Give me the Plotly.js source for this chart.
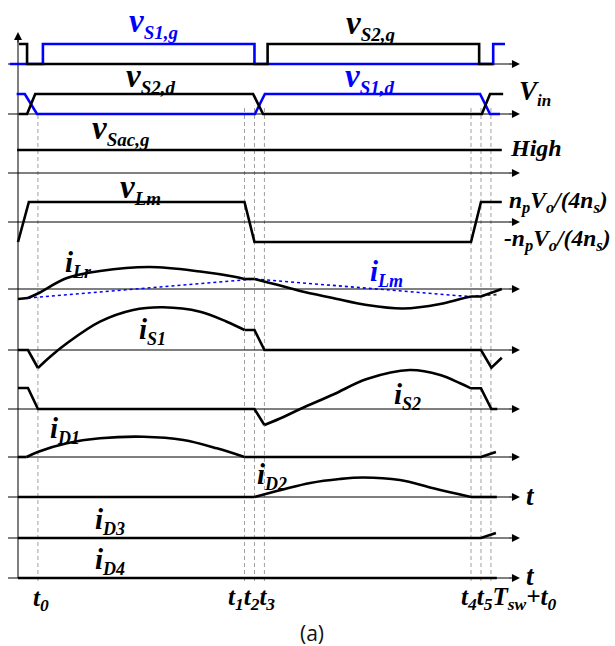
<!DOCTYPE html>
<html>
<head>
<meta charset="utf-8">
<script src="https://cdn.plot.ly/plotly-3.0.1.min.js"></script>
<style>
  html, body { margin: 0; padding: 0; background: #fff; }
  #chart { width: 615px; height: 646px; }
</style>
</head>
<body>
<div id="chart"></div>
<script>
// ---------------------------------------------------------------------------
// Key waveforms of the converter over one switching period.
// Time is in units of 1/100 of the switching period, measured from the
// vertical axis; each waveform is normalised to its own row.
// ---------------------------------------------------------------------------

// switching instants: t0, t1, t2, t3, t4, t5, Tsw+t0
const instants = [4.4, 50.0, 52.2, 54.4, 100.0, 102.2, 104.4];
const instantLabels = [
  't<sub>0</sub>',
  't<sub>1</sub>t<sub>2</sub>t<sub>3</sub>',
  't<sub>4</sub>t<sub>5</sub>T<sub>sw</sub>+t<sub>0</sub>'
];

// gate signals (1 = on)
const vS1g_t = [-1.8, 5.5, 5.5, 52.2, 52.2, 104.9, 104.9, 107.5];
const vS1g   = [0, 0, 1, 1, 0, 0, 1, 1];
const vS2g_t = [0.2, 2.0, 2.0, 55.1, 55.1, 101.8, 101.8, 104.9];
const vS2g   = [1, 1, 0, 0, 1, 1, 0, 0];

// drain-source voltages (1 = Vin)
const vS1d_t = [-0.3, 1.5, 4.2, 52.3, 54.5, 102.0, 104.2, 106.4];
const vS1d   = [1, 1, 0, 0, 1, 1, 0, 0];
const vS2d_t = [0.2, 2.0, 3.8, 51.9, 54.1, 102.4, 104.2, 107.1];
const vS2d   = [0, 0, 1, 1, 0, 0, 1, 1];

// auxiliary switch gate (always high)
const vSacg_t = [-0.2, 106.8];
const vSacg   = [1, 1];

// magnetising inductor voltage (1 = npVo/(4ns))
const vLm_t = [0, 2.4, 50.0, 52.2, 100.0, 102.2, 106.8];
const vLm   = [-1, 1, 1, -1, -1, 1, 1];

// resonant inductor current
const iLr_t = [0, 2.2, 4.4, 10.8, 18.1, 29.1, 40.2, 47.5, 50.0, 52.2, 57.0, 62.3, 69.5, 77.0, 85.0, 93.2, 97.6, 100.0, 102.2, 106.8];
const iLr   = [-1.0, -0.9, -0.45, 1.1, 1.8, 2.2, 1.75, 1.25, 1.0, 1.0, 0.45, -0.2, -0.9, -1.6, -1.95, -1.5, -1.0, -0.75, -0.75, 0.0];

// magnetising current
const iLm_t = [2.2, 52.2, 100.0];
const iLm   = [-0.9, 1.0, -0.77];
const iLmNext_t = [101.0, 106.2];
const iLmNext   = [-0.7, -0.55];

// switch currents
const iS1_t = [0, 2.2, 4.4, 7.1, 10.8, 18.1, 25.4, 32.0, 40.2, 46.1, 50.0, 52.2, 54.4, 102.2, 104.5, 106.8];
const iS1   = [0, 0, -1.8, -0.67, 0.67, 2.83, 4.0, 4.27, 3.83, 2.83, 2.0, 2.0, 0, 0, -1.77, -0.77];
const iS2_t = [0, 2.2, 4.4, 52.2, 54.4, 58.6, 62.3, 69.6, 77.0, 86.5, 93.2, 97.6, 100.0, 102.2, 104.5, 105.8];
const iS2   = [2.1, 2.1, 0, 0, -1.6, -0.8, 0, 1.45, 3.0, 3.9, 3.4, 2.57, 2.07, 2.07, 0, 0];

// rectifier diode currents
const iD1_t = [0, 1.9, 4.5, 10.8, 18.1, 27.7, 36.5, 43.9, 50.0, 102.2, 105.5];
const iD1   = [0, 0, 0.53, 1.37, 1.87, 2.03, 1.7, 0.87, 0, 0, 0.5];
const iD2_t = [0, 52.2, 58.5, 64.5, 71.0, 76.2, 84.3, 91.7, 100.0, 105.7];
const iD2   = [0, 0, 0.75, 1.4, 1.8, 1.95, 1.7, 0.87, 0, 0];
const iD3_t = [0, 102.2, 105.5];
const iD3   = [0, 0, 0.5];
const iD4_t = [0, 105.7];
const iD4   = [0, 0];

// ---------------------------------------------------------------------------
// Layout geometry
// ---------------------------------------------------------------------------
const W = 615, H = 646;
const ORIGIN_PX = 18, PX_PER_UNIT = 4.53;
const AXIS_START = -2.2, AXIS_END = 110.8, HEAD_TAIL = 108.2;

// one row per waveform: baseline (px from top) and px per unit
const rows = [
  { base: 64,  scale: 20 },  // vS1,g / vS2,g
  { base: 114, scale: 20 },  // vS2,d / vS1,d
  { base: 173, scale: 23 },  // vSac,g
  { base: 222, scale: 20 },  // vLm
  { base: 289, scale: 10 },  // iLr / iLm
  { base: 350, scale: 10 },  // iS1
  { base: 409, scale: 10 },  // iS2
  { base: 457, scale: 10 },  // iD1
  { base: 497, scale: 10 },  // iD2
  { base: 538, scale: 10 },  // iD3
  { base: 578, scale: 10 }   // iD4
];
const yName = i => (i === 0 ? 'y' : 'y' + (i + 1));
const yKey  = i => (i === 0 ? 'yaxis' : 'yaxis' + (i + 1));

const BLACK = '#000000', BLUE = '#0000ff', GRID = '#a0a0a0';
const SIG_W = 2.6;
const FONT = 'Liberation Serif, Times New Roman, serif';

const traces = [];
function seg(row, t, v, opt) {
  traces.push({
    type: 'scatter', mode: 'lines', x: t, y: v,
    xaxis: 'x', yaxis: yName(row), hoverinfo: 'skip', showlegend: false,
    line: { color: opt.color || BLACK, width: opt.width || SIG_W,
            shape: opt.shape || 'linear', smoothing: 1, dash: opt.dash || 'solid' }
  });
}
// straight pieces everywhere except the index ranges listed in `curved`
function wave(row, t, v, curved, color) {
  let cur = 0;
  const pieces = [];
  for (const [a, b] of (curved || [])) {
    if (a > cur) pieces.push([cur, a, 'linear']);
    pieces.push([a, b, 'spline']);
    cur = b;
  }
  if (cur < t.length - 1) pieces.push([cur, t.length - 1, 'linear']);
  for (const [a, b, shape] of pieces) {
    seg(row, t.slice(a, b + 1), v.slice(a, b + 1), { color, shape });
  }
}

wave(0, vS1g_t, vS1g, null, BLUE);
wave(0, vS2g_t, vS2g, null, BLACK);
wave(1, vS1d_t, vS1d, null, BLUE);
wave(1, vS2d_t, vS2d, null, BLACK);
wave(2, vSacg_t, vSacg, null, BLACK);
wave(3, vLm_t, vLm, null, BLACK);
seg(4, iLm_t, iLm, { color: BLUE, width: 1.6, dash: 'dot' });
seg(4, iLmNext_t, iLmNext, { color: '#333', width: 1.6, dash: 'dot' });
wave(4, iLr_t, iLr, [[1, 8], [9, 17]], BLACK);
wave(5, iS1_t, iS1, [[2, 10]], BLACK);
wave(6, iS2_t, iS2, [[4, 12]], BLACK);
wave(7, iD1_t, iD1, [[1, 8]], BLACK);
wave(8, iD2_t, iD2, [[1, 8]], BLACK);
wave(9, iD3_t, iD3, null, BLACK);
wave(10, iD4_t, iD4, null, BLACK);

// ---------------------------------------------------------------------------
// Axes, arrows, dashed instant markers
// ---------------------------------------------------------------------------
const shapes = [];
const annotations = [];

rows.forEach((r, i) => {
  shapes.push({ type: 'line', layer: 'below', xref: 'x', yref: yName(i),
    x0: AXIS_START, x1: HEAD_TAIL + 0.5, y0: 0, y1: 0,
    line: { color: BLACK, width: 1 } });
  annotations.push({ xref: 'x', yref: yName(i), axref: 'x', ayref: yName(i),
    x: AXIS_END, y: 0, ax: HEAD_TAIL, ay: 0, text: '',
    showarrow: true, arrowhead: 2, arrowsize: 1.6, arrowwidth: 1,
    arrowcolor: BLACK, standoff: 0, startstandoff: 0 });
});

// vertical axis
const topPx = 32;
shapes.push({ type: 'line', layer: 'below', xref: 'x', yref: 'paper',
  x0: 0, x1: 0, y0: 1 - rows[10].base / H, y1: 1 - (topPx + 8) / H,
  line: { color: BLACK, width: 1 } });
annotations.push({ xref: 'x', yref: 'y', axref: 'x', ayref: 'y',
  x: 0, y: (rows[0].base - topPx) / rows[0].scale,
  ax: 0, ay: (rows[0].base - topPx - 12) / rows[0].scale, text: '',
  showarrow: true, arrowhead: 2, arrowsize: 1.6, arrowwidth: 1,
  arrowcolor: BLACK, standoff: 0, startstandoff: 0 });

// dashed lines at the switching instants
instants.forEach((t, k) => {
  const top = k === 0 ? 114 : 105;
  shapes.push({ type: 'line', layer: 'below', xref: 'x', yref: 'paper',
    x0: t, x1: t, y0: 1 - 581 / H, y1: 1 - top / H,
    line: { color: GRID, width: 1, dash: '4px,3px' } });
});

// ---------------------------------------------------------------------------
// Labels
// ---------------------------------------------------------------------------
function sym(main, sub, mSize, sSize) {
  return '<b><i><span style="font-size:' + mSize + 'px">' + main + '</span>' +
         '<sub><span style="font-size:' + sSize + 'px">' + sub + '</span></sub></i></b>';
}
function label(text, xpx, ypx, opt) {
  opt = opt || {};
  annotations.push({
    xref: 'paper', yref: 'paper', x: xpx / W, y: 1 - ypx / H,
    xanchor: opt.anchor || 'center', yanchor: 'middle',
    text: text, showarrow: false,
    font: { family: opt.family || FONT, size: opt.size || 28, color: opt.color || BLACK }
  });
}

label(sym('v', 'S1,g', 33, 19), 153, 23, { color: BLUE, size: 32 });
label(sym('v', 'S2,g', 33, 19), 370, 25, { size: 32 });
label(sym('v', 'S2,d', 33, 19), 150, 78, { size: 32 });
label(sym('v', 'S1,d', 33, 19), 369, 78, { color: BLUE, size: 32 });
label(sym('V', 'in', 27, 17), 517, 93, { anchor: 'left', size: 27 });
label(sym('v', 'Sac,g', 33, 19), 120, 130, { size: 32 });
label('<b><i>High</i></b>', 508, 148, { anchor: 'left', size: 24 });
label(sym('v', 'Lm', 33, 19), 140, 189, { size: 32 });
label('<b><i>n<sub>p</sub>V<sub>o</sub>/(4n<sub>s</sub>)</i></b>', 507, 202, { anchor: 'left', size: 23.5 });
label('<b><i>-n<sub>p</sub>V<sub>o</sub>/(4n<sub>s</sub>)</i></b>', 502, 240, { anchor: 'left', size: 23.5 });
label(sym('i', 'Lr', 29, 18), 78, 264, { size: 29 });
label(sym('i', 'Lm', 29, 18), 386, 273, { color: BLUE, size: 29 });
label(sym('i', 'S1', 29, 18), 152, 331, { size: 29 });
label(sym('i', 'S2', 29, 18), 407, 396, { size: 29 });
label(sym('i', 'D1', 29, 18), 65, 430, { size: 29 });
label(sym('i', 'D2', 29, 18), 272, 476, { size: 29 });
label(sym('i', 'D3', 29, 18), 110, 521, { size: 29 });
label(sym('i', 'D4', 29, 18), 110, 561, { size: 29 });
label('<b><i>t</i></b>', 524, 496, { anchor: 'left', size: 27 });
label('<b><i>t</i></b>', 524, 576, { anchor: 'left', size: 27 });
label('<b><i>' + instantLabels[0] + '</i></b>', 41, 599, { size: 25 });
label('<b><i>' + instantLabels[1] + '</i></b>', 252, 598, { size: 25 });
label('<b><i>' + instantLabels[2] + '</i></b>', 459, 598, { anchor: 'left', size: 25 });
label('(a)', 312, 633, { family: 'Open Sans, Noto Sans, sans-serif', size: 21, color: '#111' });

// ---------------------------------------------------------------------------
const layout = {
  width: W, height: H,
  margin: { l: 0, r: 0, t: 0, b: 0, pad: 0 },
  paper_bgcolor: '#ffffff', plot_bgcolor: 'rgba(0,0,0,0)',
  showlegend: false,
  xaxis: { domain: [0, 1], range: [-ORIGIN_PX / PX_PER_UNIT, (W - ORIGIN_PX) / PX_PER_UNIT],
           visible: false, fixedrange: true },
  shapes: shapes,
  annotations: annotations
};
rows.forEach((r, i) => {
  const half = Math.min(60, r.base, H - r.base);
  layout[yKey(i)] = {
    domain: [1 - (r.base + half) / H, 1 - (r.base - half) / H],
    range: [-half / r.scale, half / r.scale],
    anchor: 'x', visible: false, fixedrange: true
  };
});

Plotly.newPlot('chart', traces, layout, { staticPlot: true, displayModeBar: false });
</script>
</body>
</html>
